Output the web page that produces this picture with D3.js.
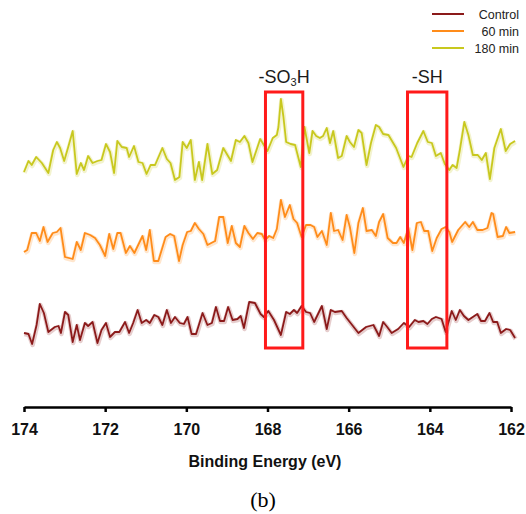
<!DOCTYPE html>
<html><head><meta charset="utf-8">
<script src="https://cdn.jsdelivr.net/npm/d3@7"></script>
<style>body{margin:0;background:#fff}svg{display:block}</style>
</head><body>
<script>
// Binding energy (eV) and intensity (a.u., stacked offsets included)
const control = [[174.00,67],[173.89,66],[173.80,56],[173.69,75],[173.61,96],[173.51,87],[173.40,68],[173.24,73],[173.15,74],[173.09,67],[172.99,88],[172.91,85],[172.80,58],[172.70,75],[172.62,60],[172.50,77],[172.42,74],[172.31,78],[172.19,57],[172.09,70],[171.98,77],[171.88,63],[171.76,68],[171.65,68],[171.51,78],[171.41,67],[171.31,77],[171.20,90],[171.10,77],[170.99,80],[170.90,77],[170.79,85],[170.69,83],[170.59,75],[170.48,90],[170.38,77],[170.28,83],[170.16,77],[170.06,76],[169.97,83],[169.87,66],[169.76,66],[169.60,87],[169.48,75],[169.37,77],[169.27,93],[169.17,79],[169.07,79],[168.97,93],[168.86,80],[168.74,81],[168.66,84],[168.58,72],[168.45,98],[168.31,97],[168.17,86],[168.09,83],[167.98,89],[167.84,80],[167.67,65],[167.54,88],[167.45,86],[167.35,90],[167.27,87],[167.16,94],[167.05,88],[166.95,87],[166.85,78],[166.66,94],[166.54,71],[166.44,90],[166.34,88],[166.17,89],[166.05,82],[165.76,67],[165.57,73],[165.39,75],[165.25,64],[165.15,78],[165.05,73],[164.94,67],[164.78,71],[164.64,77],[164.51,73],[164.37,80],[164.28,78],[164.16,79],[164.06,76],[163.95,81],[163.85,83],[163.71,81],[163.61,68],[163.46,89],[163.36,80],[163.26,90],[163.16,84],[163.05,80],[162.83,86],[162.74,79],[162.64,79],[162.53,87],[162.44,78],[162.34,78],[162.25,67],[162.12,71],[162.02,70],[161.90,62]];
const min60 = [[174.00,148],[173.92,150],[173.81,167],[173.70,167],[173.61,159],[173.52,173],[173.42,158],[173.29,167],[173.19,168],[173.10,172],[172.99,143],[172.80,141],[172.70,158],[172.60,150],[172.50,167],[172.37,165],[172.25,162],[172.13,155],[172.00,144],[171.90,166],[171.80,151],[171.70,167],[171.62,167],[171.49,147],[171.39,154],[171.28,147],[171.08,164],[170.99,150],[170.90,170],[170.80,139],[170.69,139],[170.51,163],[170.40,166],[170.30,164],[170.18,139],[170.09,155],[169.98,168],[169.89,169],[169.79,177],[169.69,171],[169.58,166],[169.48,155],[169.29,159],[169.19,183],[169.09,183],[168.98,157],[168.88,174],[168.78,157],[168.68,153],[168.57,174],[168.47,167],[168.36,161],[168.25,167],[168.14,166],[168.06,160],[167.96,164],[167.86,162],[167.77,171],[167.67,200],[167.57,183],[167.45,195],[167.36,181],[167.27,177],[167.16,163],[167.05,175],[166.94,175],[166.85,173],[166.77,163],[166.66,169],[166.54,155],[166.44,187],[166.36,169],[166.26,170],[166.15,160],[166.05,185],[165.97,173],[165.86,147],[165.76,177],[165.65,192],[165.56,169],[165.43,170],[165.33,164],[165.25,178],[165.15,186],[165.04,162],[164.91,157],[164.82,157],[164.73,163],[164.64,157],[164.53,172],[164.43,150],[164.32,177],[164.22,178],[164.14,169],[164.04,169],[163.94,149],[163.83,162],[163.71,171],[163.61,173],[163.52,168],[163.45,158],[163.30,170],[163.13,178],[163.03,173],[162.94,178],[162.83,170],[162.70,170],[162.58,172],[162.48,187],[162.44,186],[162.33,163],[162.20,164],[162.12,173],[162.04,167],[161.90,168]];
const min180 = [[174.00,228],[173.89,239],[173.81,235],[173.70,243],[173.56,237],[173.40,227],[173.28,250],[173.19,258],[173.11,252],[173.01,239],[172.91,253],[172.80,269],[172.70,226],[172.60,237],[172.52,230],[172.42,244],[172.31,237],[172.19,239],[172.09,240],[171.98,256],[171.88,248],[171.78,227],[171.70,259],[171.59,253],[171.47,252],[171.41,243],[171.29,254],[171.18,238],[171.08,237],[170.98,226],[170.88,235],[170.77,235],[170.59,252],[170.48,241],[170.39,237],[170.28,220],[170.17,223],[170.09,258],[169.99,252],[169.89,260],[169.79,220],[169.69,238],[169.61,220],[169.48,256],[169.36,226],[169.24,230],[169.09,252],[168.90,239],[168.78,260],[168.68,258],[168.57,264],[168.47,257],[168.37,238],[168.18,261],[168.00,249],[167.87,262],[167.77,265],[167.73,273],[167.67,301],[167.61,284],[167.54,258],[167.43,256],[167.32,255],[167.18,233],[167.09,273],[166.97,247],[166.89,269],[166.80,264],[166.71,262],[166.63,264],[166.54,272],[166.46,257],[166.38,269],[166.26,242],[166.17,244],[166.05,264],[165.97,258],[165.87,253],[165.76,270],[165.68,267],[165.56,235],[165.45,257],[165.33,275],[165.25,273],[165.15,266],[165.02,265],[164.83,252],[164.65,233],[164.53,244],[164.45,243],[164.31,257],[164.16,269],[164.05,258],[163.95,257],[163.85,244],[163.73,247],[163.63,236],[163.52,230],[163.44,235],[163.34,232],[163.26,250],[163.15,278],[163.05,265],[162.94,245],[162.82,245],[162.72,240],[162.62,247],[162.52,221],[162.41,252],[162.25,271],[162.13,249],[162.02,256],[161.90,259]];

const seriesNames = ["Control", "60 min", "180 min"];
const seriesColors = ["#8b1a1a", "#ff8c1a", "#c8c81e"];
const xTicks = [174, 172, 170, 168, 166, 164, 162];
const boxLabels = ["-SO", "-SH"];
const boxRanges = [[168.05, 167.13], [164.55, 163.58]];
const boxIntensity = [52, 308];

const W = 526, H = 514;
const svg = d3.select("body").append("svg").attr("width", W).attr("height", H);

const x = d3.scaleLinear().domain([174, 162]).range([24, 511]);
const y = d3.scaleLinear().domain([0, 400]).range([400, 0]);

// Lines
const line = d3.line().x(d => x(d[0])).y(d => y(d[1]));
const data = [control, min60, min180];
data.forEach((s, i) => {
  svg.append("path").attr("d", line(s)).attr("fill", "none")
    .attr("stroke", seriesColors[i]).attr("stroke-opacity", 0.22)
    .attr("stroke-width", 4.5).attr("stroke-linejoin", "round")
    .attr("transform", "translate(0.5,1)");
  svg.append("path").attr("d", line(s)).attr("fill", "none")
    .attr("stroke", seriesColors[i]).attr("stroke-width", 1.8)
    .attr("stroke-linejoin", "round");
});

// Highlight boxes
boxRanges.forEach((r, i) => {
  const x0 = x(r[0]), x1 = x(r[1]);
  svg.append("rect").attr("x", x0).attr("y", y(boxIntensity[1]))
    .attr("width", x1 - x0).attr("height", y(boxIntensity[0]) - y(boxIntensity[1]))
    .attr("fill", "none").attr("stroke", "#ff1a1a").attr("stroke-width", 3);
  const t = svg.append("text").attr("x", (x0 + x1) / 2).attr("y", 83)
    .attr("text-anchor", "middle").attr("font-family", "Liberation Sans, Arial, sans-serif")
    .attr("font-size", 18).attr("fill", "#1a1a1a");
  if (i === 0) {
    t.append("tspan").text("-SO");
    t.append("tspan").attr("font-size", 11).attr("dy", 3).text("3");
    t.append("tspan").attr("dy", -3).text("H");
  } else {
    t.text(boxLabels[i]);
  }
});

// X axis
const axisY = 407;
const ax = svg.append("g").attr("transform", `translate(0,${axisY})`)
  .call(d3.axisBottom(x).tickValues(xTicks).tickSize(5).tickSizeOuter(0).tickFormat(d3.format("d")));
ax.select(".domain").attr("stroke", "#000").attr("stroke-width", 2.5);
ax.selectAll(".tick line").attr("stroke", "#000").attr("stroke-width", 2.5);
ax.selectAll(".tick text").attr("font-family", "Liberation Sans, Arial, sans-serif")
  .attr("font-size", 16).attr("font-weight", "bold").attr("fill", "#111").attr("dy", "0.71em").attr("y", 17);

svg.append("text").attr("x", 265).attr("y", 467).attr("text-anchor", "middle")
  .attr("font-family", "Liberation Sans, Arial, sans-serif").attr("font-weight", "bold")
  .attr("font-size", 16).attr("fill", "#111").text("Binding Energy (eV)");

svg.append("text").attr("x", 263).attr("y", 507).attr("text-anchor", "middle")
  .attr("font-family", "Liberation Serif, Times New Roman, serif")
  .attr("font-size", 22).attr("fill", "#000").text("(b)");

// Legend
const legY = [14, 31, 48];
seriesNames.forEach((n, i) => {
  svg.append("line").attr("x1", 432).attr("x2", 464).attr("y1", legY[i]).attr("y2", legY[i])
    .attr("stroke", seriesColors[i]).attr("stroke-width", 2);
  svg.append("text").attr("x", 519).attr("y", legY[i] + 4.5).attr("text-anchor", "end")
    .attr("font-family", "Liberation Sans, Arial, sans-serif").attr("font-size", 12.5)
    .attr("fill", "#222").text(n);
});
</script>
</body></html>
